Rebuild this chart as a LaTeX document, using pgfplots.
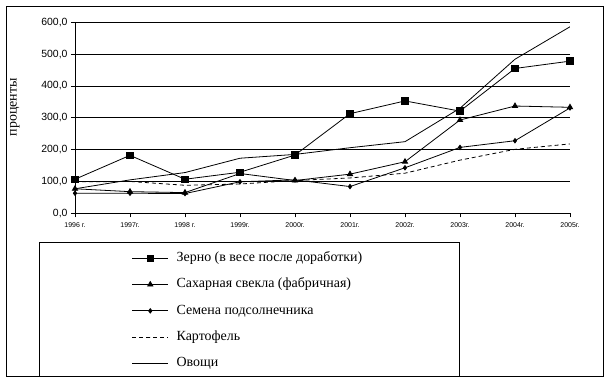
\documentclass[border=0pt]{standalone}
\usepackage{fontspec}
\setmainfont{Liberation Serif}
\newfontfamily\arial{Liberation Sans}
\usepackage{pgfplots}
\pgfplotsset{compat=1.18}
\begin{document}
\begin{tikzpicture}
\path[use as bounding box] (0,0) rectangle (610bp,383bp);
\draw[line width=0.8bp] (6bp,7bp) rectangle (603bp,377bp);
\draw[line width=0.8bp] (39bp,7bp) rectangle (459bp,141bp);
\begin{axis}[
  at={(75bp,169.7bp)}, anchor=south west,
  scale only axis, width=495bp, height=191bp,
  xmin=0, xmax=9, ymin=0, ymax=600,
  axis lines*=left, axis line style={-, line width=0.8bp},
  ytick={0,100,...,600}, ymajorgrids, grid style={black, line width=0.8bp},
  xtick={0,...,9},
  xticklabels={1996 г.,1997г.,1998 г.,1999г.,2000г.,2001г.,2002г.,2003г.,2004г.,2005г.},
  tick align=outside, major tick length=4bp, tick style={black, line width=0.8bp},
  xticklabel style={font=\arial\fontsize{7}{8}\selectfont, yshift=-1.5bp},
  yticklabel style={font=\arial\fontsize{10.5}{12}\selectfont},
  /pgf/number format/.cd, fixed, fixed zerofill, precision=1, use comma, assume math mode=true,
  /pgfplots/.cd,
  ylabel={проценты},
  ylabel style={at={(axis description cs:-0.105,0.556)}, anchor=south, font=\fontsize{14}{16}\selectfont},
  legend style={at={(0.1145,-0.199)}, anchor=north west, draw=none, fill=none, inner sep=0pt,
    font=\fontsize{14}{16}\selectfont, row sep=12.8bp, column sep=8bp,
    nodes={inner xsep=0pt, inner ysep=0pt, text height=10bp, text depth=3.5bp},
    cells={anchor=west}},
  legend image code/.code={\draw[mark repeat=2,mark phase=2,#1] plot coordinates {(0bp,0bp) (18bp,0bp) (36bp,0bp)};},
]
\addplot[black, line width=0.8bp, mark=square*, mark size=3.3bp] coordinates {
(0,107) (1,182) (2,107) (3,129) (4,183) (5,313) (6,353) (7,321) (8,455) (9,478)};
\addlegendentry{Зерно (в весе после доработки)}
\addplot[black, line width=0.8bp, mark=triangle*, mark size=3bp] coordinates {
(0,77) (1,68) (2,65) (3,125) (4,103) (5,123) (6,162) (7,293) (8,337) (9,333)};
\addlegendentry{Сахарная свекла (фабричная)}
\addplot[black, line width=0.8bp, mark=diamond*, mark size=2.2bp] coordinates {
(0,63) (1,63) (2,62) (3,99) (4,105) (5,84) (6,143) (7,207) (8,228) (9,331)};
\addlegendentry{Семена подсолнечника}
\addplot[black, line width=0.8bp, dash pattern=on 4bp off 3bp] coordinates {
(0,99) (1,100) (2,88) (3,92) (4,103) (5,111) (6,126) (7,167) (8,201) (9,218)};
\addlegendentry{Картофель}
\addplot[black, line width=0.8bp] coordinates {
(0,77) (1,105) (2,128) (3,173) (4,185) (5,206) (6,225) (7,330) (8,484) (9,586)};
\addlegendentry{Овощи}
\end{axis}
\end{tikzpicture}
\end{document}
